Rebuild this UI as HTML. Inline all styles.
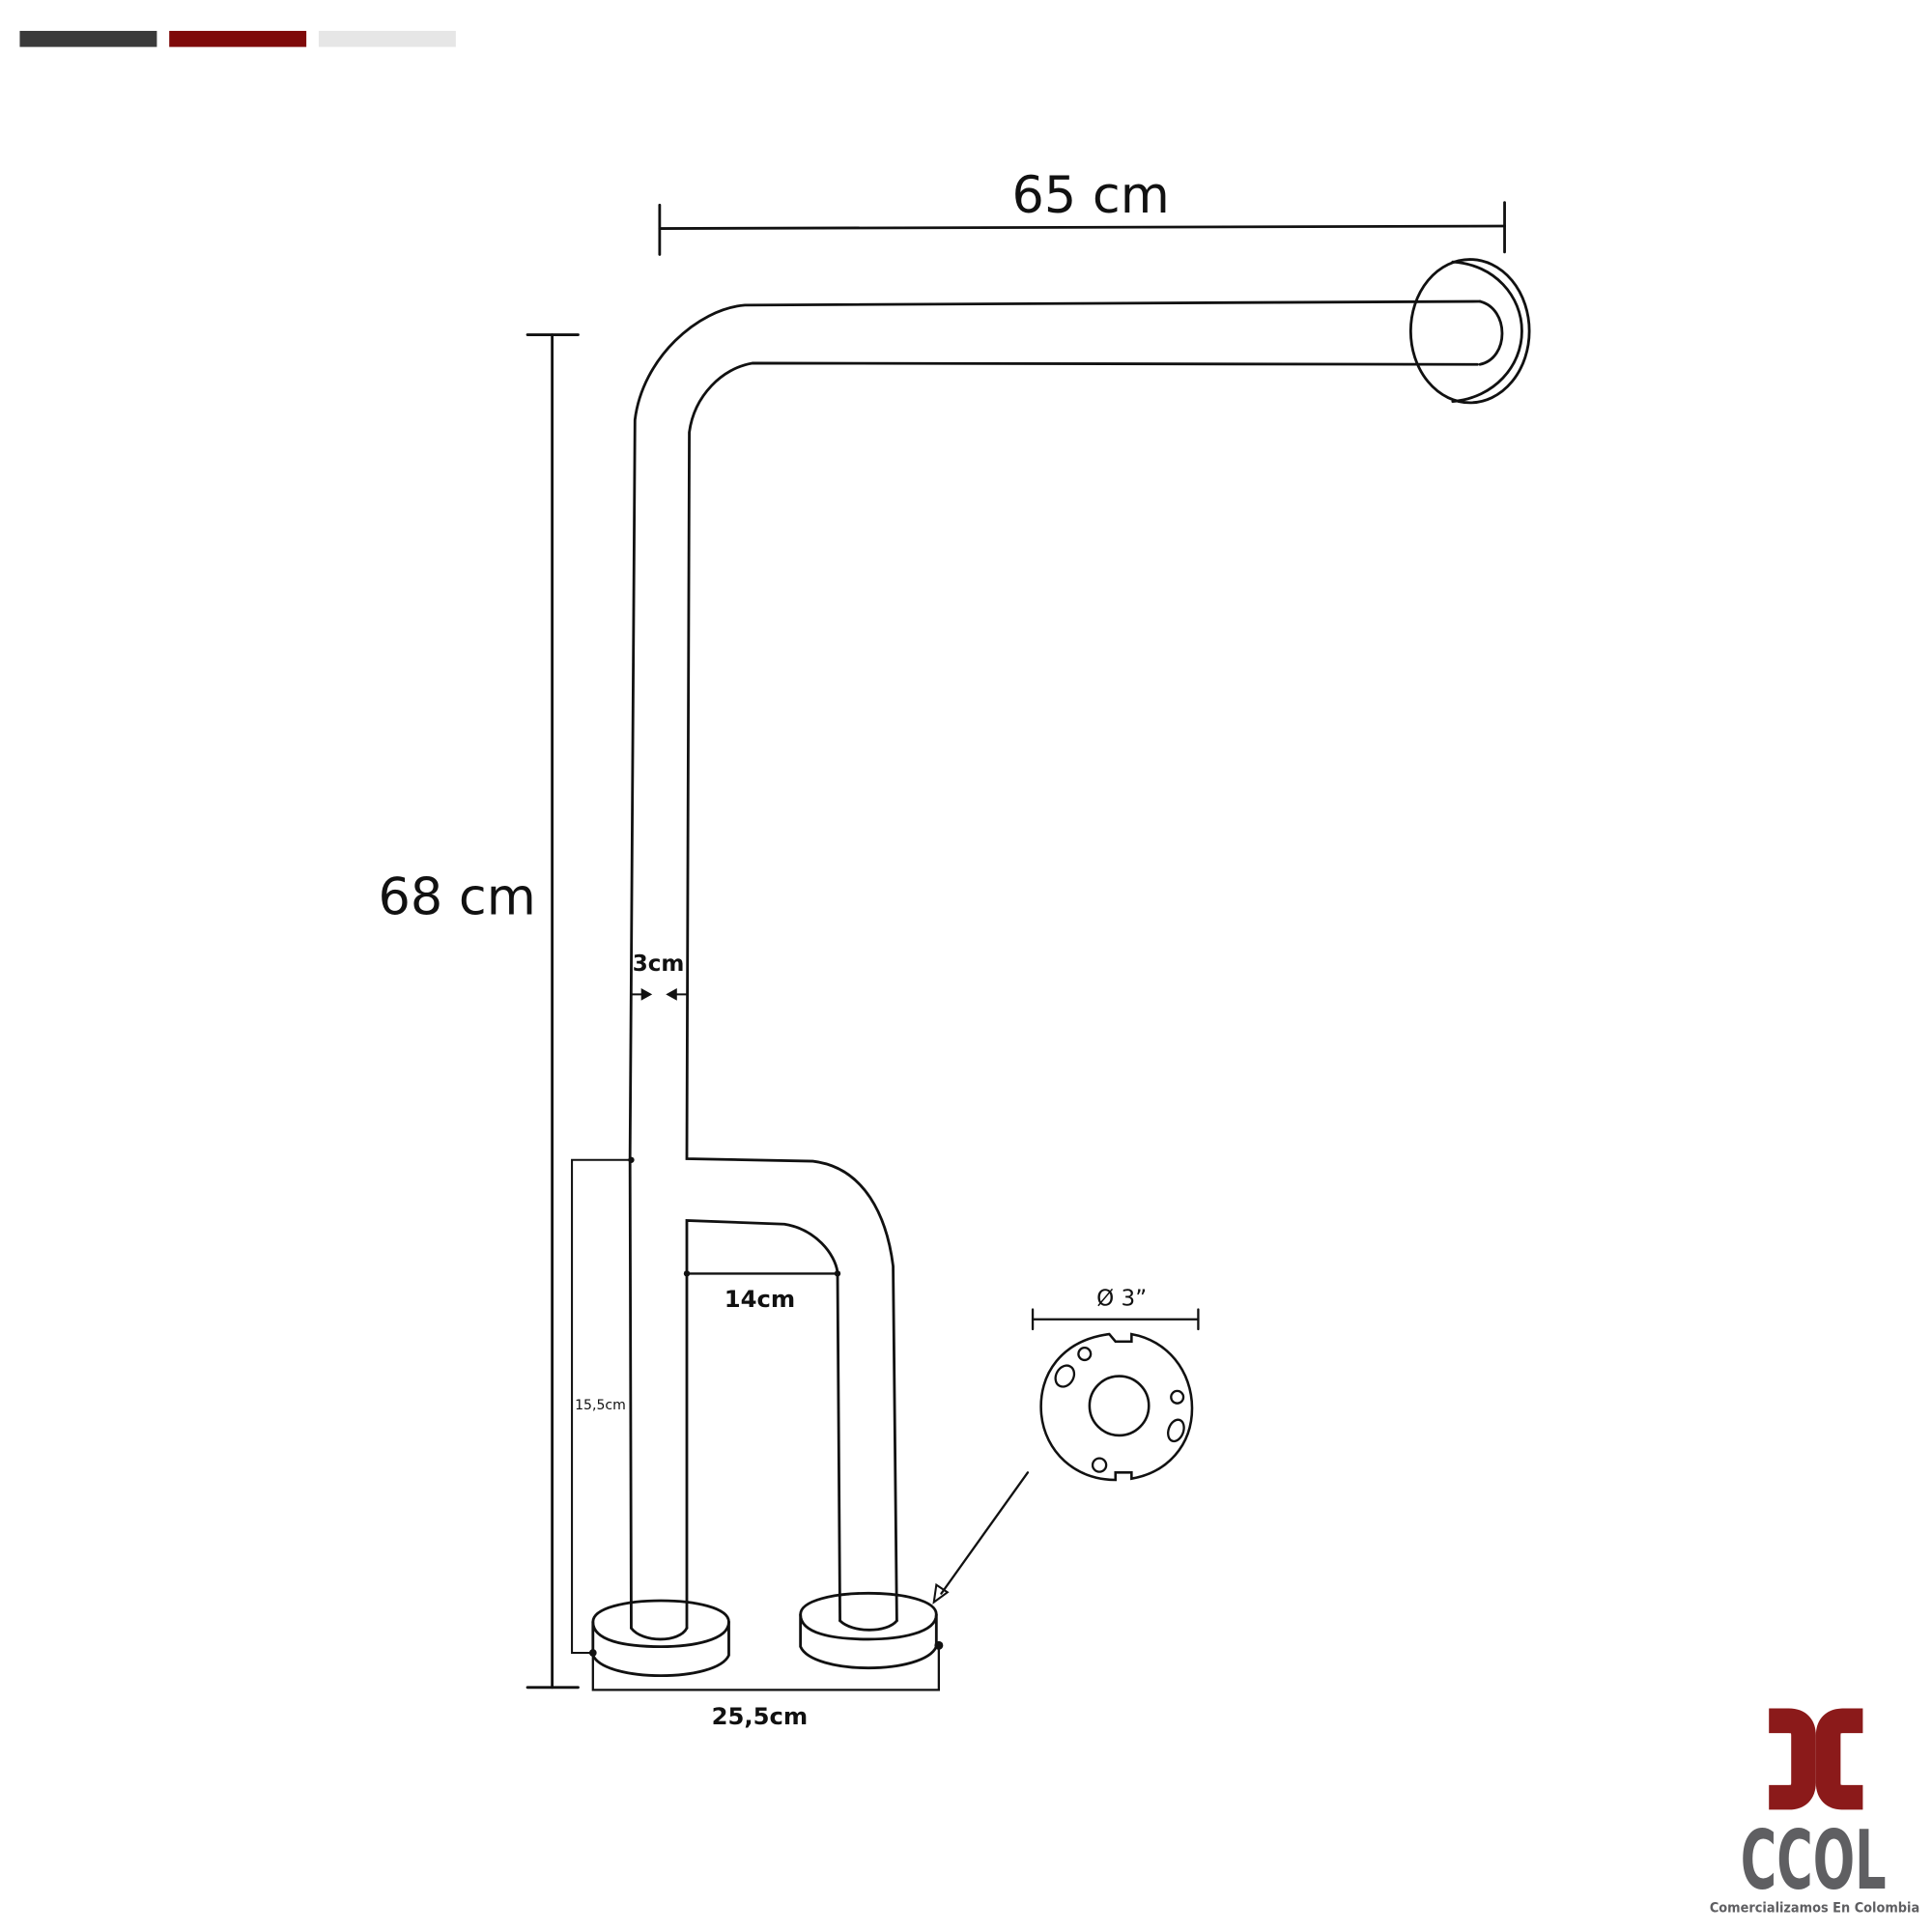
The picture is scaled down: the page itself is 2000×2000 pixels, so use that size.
<!DOCTYPE html>
<html><head><meta charset="utf-8"><style>
html,body{margin:0;padding:0;background:#fff;width:2000px;height:2000px;overflow:hidden}
svg{display:block}
text{font-family:"DejaVu Sans","Liberation Sans",sans-serif}
</style></head><body>
<svg width="2000" height="2000" viewBox="0 0 1564 1564" xmlns="http://www.w3.org/2000/svg">
<rect x="16" y="25" width="111" height="13" fill="#3a3a3a"/>
<rect x="137" y="25" width="111" height="13" fill="#7f0a0a"/>
<rect x="258" y="25" width="111" height="13" fill="#e6e6e6"/>
<g fill="none" stroke="#111" stroke-width="2.2" stroke-linecap="round">
<line x1="534" y1="185" x2="1218" y2="183"/>
<line x1="534" y1="166" x2="534" y2="206"/>
<line x1="1218" y1="164" x2="1218" y2="204"/>
<line x1="447" y1="271" x2="447" y2="1366"/>
<line x1="427" y1="271" x2="468" y2="271"/>
<line x1="427" y1="1366" x2="468" y2="1366"/>
<path d="M1198 244 L603 247 C565 250 520 290 514 340 L510 938 L511 1318"/>
<path d="M1196 295 L609 294 C585 298 562 320 558 350 L556 938 L658 940 C700 945 718 985 723 1025 L726 1312"/>
<path d="M556 1318 L556 988 L635 991 C660 995 676 1015 678 1030 L680 1312"/>
<ellipse cx="1190" cy="268" rx="48" ry="58"/>
<path d="M1176 212 C1210 214 1232 240 1232 268 C1232 296 1210 322 1176 325"/>
<path d="M1198 244 C1222 250 1222 290 1198 295"/>
<path d="M480 1313 C480 1290 590 1290 590 1313 C590 1328 560 1333 535 1333 C505 1333 480 1328 480 1313 Z"/>
<path d="M480 1313 L480 1340 C490 1362 580 1362 590 1340 L590 1313"/>
<path d="M511 1318 C520 1330 550 1330 556 1318"/>
<path d="M648 1307 C648 1284 758 1284 758 1307 C758 1322 728 1327 703 1327 C673 1327 648 1322 648 1307 Z"/>
<path d="M648 1307 L648 1333 C658 1356 748 1356 758 1333 L758 1307"/>
<path d="M680 1312 C690 1322 718 1322 726 1312"/>
<path d="M511 939 L463 939 L463 1338 L480 1338" stroke-width="1.6"/>
<line x1="556" y1="1031" x2="678" y2="1031" stroke-width="1.8"/>
<path d="M480 1338 L480 1368 L760 1368 L760 1332" stroke-width="1.8"/>
<line x1="511" y1="805" x2="524" y2="805" stroke-width="1.6"/>
<line x1="556" y1="805" x2="543" y2="805" stroke-width="1.6"/>
<line x1="836" y1="1068" x2="970" y2="1068" stroke-width="1.8"/>
<line x1="836" y1="1060" x2="836" y2="1076" stroke-width="1.8"/>
<line x1="970" y1="1060" x2="970" y2="1076" stroke-width="1.8"/>
<path d="M898 1080 C860 1085 840 1112 843 1145 C846 1175 870 1198 903 1198 L903 1192 L916 1192 L916 1197 C945 1192 965 1170 965 1140 C965 1110 945 1085 916 1080 L916 1086 L903 1086 Z" stroke-width="2"/>
<circle cx="906" cy="1138" r="24" stroke-width="2"/>
<ellipse cx="862" cy="1114" rx="7" ry="9" transform="rotate(30 862 1114)" stroke-width="1.8"/>
<circle cx="878" cy="1096" r="5" stroke-width="1.8"/>
<circle cx="953" cy="1131" r="5" stroke-width="1.8"/>
<ellipse cx="952" cy="1158" rx="6" ry="9" transform="rotate(20 952 1158)" stroke-width="1.8"/>
<circle cx="890" cy="1186" r="5.5" stroke-width="1.8"/>
<line x1="832" y1="1192" x2="762" y2="1290" stroke-width="1.8"/>
<path d="M756 1297 L758 1283 L767 1289 Z" stroke-width="1.6"/>
</g>
<g fill="#111">
<path d="M528 805 L519 800 L519 810 Z"/>
<path d="M539 805 L548 800 L548 810 Z"/>
<circle cx="511" cy="939" r="2.5"/><circle cx="480" cy="1338" r="3"/><circle cx="760" cy="1332" r="3.5"/>
<circle cx="556" cy="1031" r="2.5"/><circle cx="678" cy="1031" r="2.5"/>
</g>
<g fill="#111" text-anchor="middle">
<text x="883" y="172" font-size="41">65 cm</text>
<text x="370" y="740" font-size="41">68 cm</text>
<text x="533" y="786" font-size="18" font-weight="bold">3cm</text>
<text x="486" y="1141" font-size="11">15,5cm</text>
<text x="615" y="1058" font-size="19" font-weight="bold">14cm</text>
<text x="615" y="1396" font-size="19" font-weight="bold">25,5cm</text>
<text x="908" y="1057" font-size="18">Ø 3”</text>
</g>
<g fill="none" stroke="#8b1a1a" stroke-width="20">
<path d="M1432 1393 H1448 Q1460 1393 1460 1405 V1443 Q1460 1455 1448 1455 H1432"/>
<path d="M1508 1393 H1492 Q1480 1393 1480 1405 V1443 Q1480 1455 1492 1455 H1508"/>
</g>
<text x="1468" y="1529" font-family="Liberation Sans,sans-serif" font-size="66" font-weight="bold" fill="#5f5f62" text-anchor="middle" textLength="118" lengthAdjust="spacingAndGlyphs">CCOL</text>
<text x="1469" y="1548" font-family="Liberation Sans,sans-serif" font-size="11" font-weight="bold" fill="#5f5f62" text-anchor="middle" textLength="170" lengthAdjust="spacingAndGlyphs">Comercializamos En Colombia</text>
</svg>
</body></html>
